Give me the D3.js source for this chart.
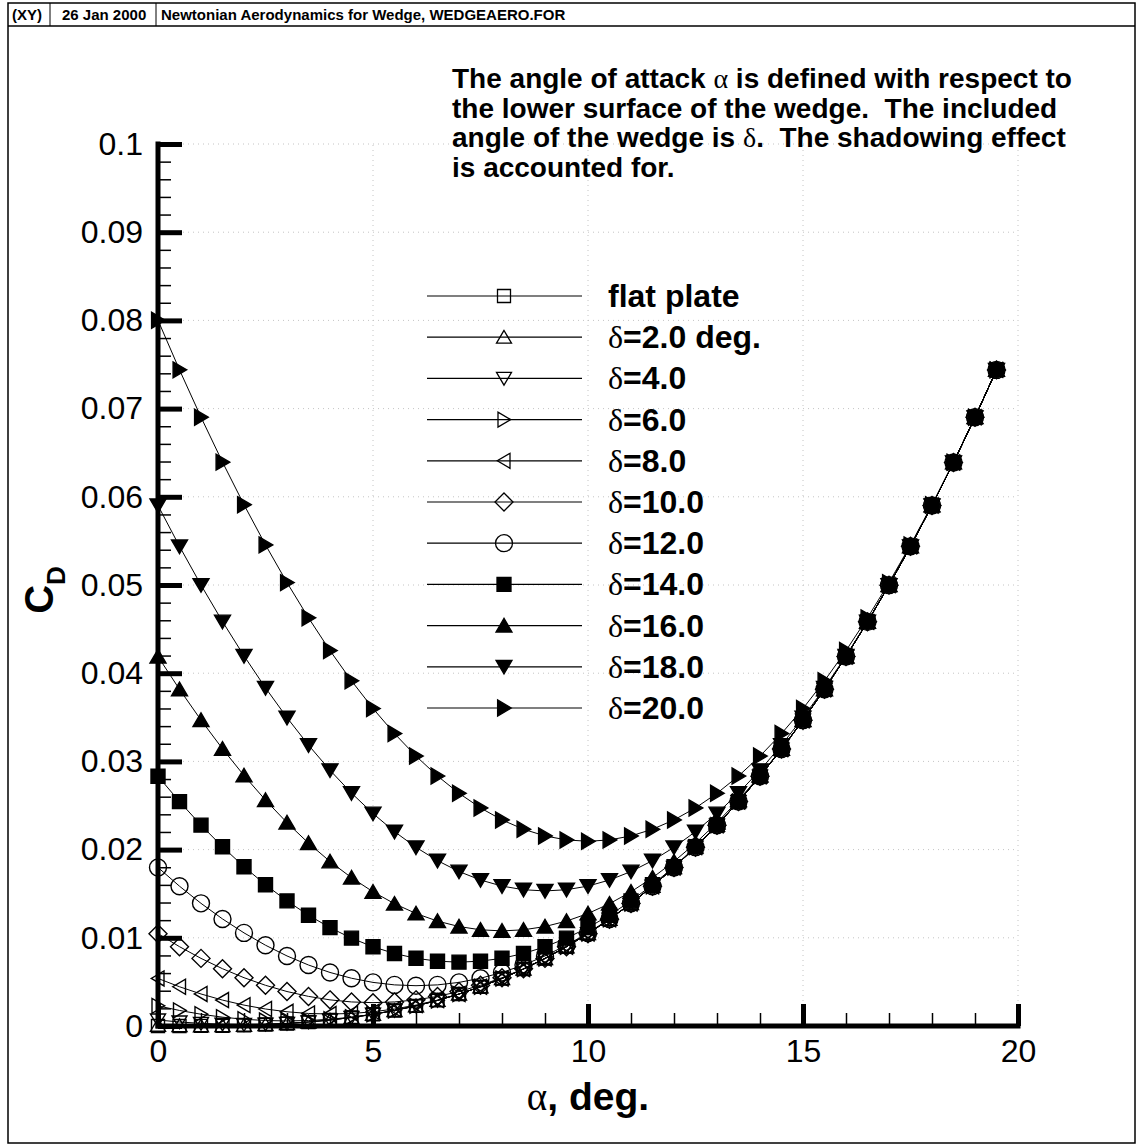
<!DOCTYPE html>
<html>
<head>
<meta charset="utf-8">
<script src="https://cdn.jsdelivr.net/npm/d3@7"></script>
<style>
  body { margin: 0; background: #fff; }
  svg { display: block; }
</style>
</head>
<body>
<div id="chart"></div>
<script>
// angle of attack, deg. (shared by every curve)
const alpha = [0, 0.5, 1, 1.5, 2, 2.5, 3, 3.5, 4, 4.5, 5, 5.5, 6, 6.5, 7, 7.5, 8, 8.5, 9, 9.5,
  10, 10.5, 11, 11.5, 12, 12.5, 13, 13.5, 14, 14.5, 15, 15.5, 16, 16.5, 17, 17.5, 18, 18.5, 19, 19.5];

// CD values, one list per curve
const flatPlate = [0, 0.000001, 0.000011, 0.000036, 0.000085, 0.000166, 0.000287, 0.000455, 0.000679, 0.000966,
  0.001324, 0.001761, 0.002284, 0.002901, 0.003620, 0.004448, 0.005391, 0.006459, 0.007656, 0.008992,
  0.010472, 0.012104, 0.013894, 0.015849, 0.017975, 0.020279, 0.022766, 0.025444, 0.028318, 0.031393,
  0.034675, 0.038170, 0.041884, 0.045820, 0.049985, 0.054382, 0.059017, 0.063894, 0.069017, 0.074390];
const delta2 = [0.000085, 0.000037, 0.000022, 0.000037, 0.000085, 0.000166, 0.000287, 0.000455, 0.000679, 0.000966,
  0.001324, 0.001761, 0.002284, 0.002901, 0.003620, 0.004448, 0.005391, 0.006459, 0.007656, 0.008992,
  0.010472, 0.012104, 0.013894, 0.015849, 0.017975, 0.020279, 0.022766, 0.025444, 0.028318, 0.031393,
  0.034675, 0.038170, 0.041884, 0.045820, 0.049985, 0.054382, 0.059017, 0.063894, 0.069017, 0.074390];
const delta4 = [0.000679, 0.000456, 0.000298, 0.000202, 0.000170, 0.000202, 0.000298, 0.000456, 0.000679, 0.000966,
  0.001324, 0.001761, 0.002284, 0.002901, 0.003620, 0.004448, 0.005391, 0.006459, 0.007656, 0.008992,
  0.010472, 0.012104, 0.013894, 0.015849, 0.017975, 0.020279, 0.022766, 0.025444, 0.028318, 0.031393,
  0.034675, 0.038170, 0.041884, 0.045820, 0.049985, 0.054382, 0.059017, 0.063894, 0.069017, 0.074390];
const delta6 = [0.002284, 0.001762, 0.001335, 0.001002, 0.000764, 0.000621, 0.000574, 0.000621, 0.000764, 0.001002,
  0.001335, 0.001762, 0.002284, 0.002901, 0.003620, 0.004448, 0.005391, 0.006459, 0.007656, 0.008992,
  0.010472, 0.012104, 0.013894, 0.015849, 0.017975, 0.020279, 0.022766, 0.025444, 0.028318, 0.031393,
  0.034675, 0.038170, 0.041884, 0.045820, 0.049985, 0.054382, 0.059017, 0.063894, 0.069017, 0.074390];
const delta8 = [0.005391, 0.004449, 0.003631, 0.002937, 0.002369, 0.001927, 0.001611, 0.001421, 0.001358, 0.001421,
  0.001611, 0.001927, 0.002369, 0.002937, 0.003631, 0.004449, 0.005391, 0.006459, 0.007656, 0.008992,
  0.010472, 0.012104, 0.013894, 0.015849, 0.017975, 0.020279, 0.022766, 0.025444, 0.028318, 0.031393,
  0.034675, 0.038170, 0.041884, 0.045820, 0.049985, 0.054382, 0.059017, 0.063894, 0.069017, 0.074390];
const delta10 = [0.010472, 0.008993, 0.007667, 0.006495, 0.005476, 0.004614, 0.003907, 0.003356, 0.002963, 0.002727,
  0.002648, 0.002727, 0.002963, 0.003356, 0.003907, 0.004614, 0.005476, 0.006495, 0.007667, 0.008993,
  0.010472, 0.012104, 0.013894, 0.015849, 0.017975, 0.020279, 0.022766, 0.025444, 0.028318, 0.031393,
  0.034675, 0.038170, 0.041884, 0.045820, 0.049985, 0.054382, 0.059017, 0.063894, 0.069017, 0.074390];
const delta12 = [0.017975, 0.015850, 0.013905, 0.012140, 0.010557, 0.009158, 0.007943, 0.006914, 0.006070, 0.005414,
  0.004944, 0.004662, 0.004568, 0.004662, 0.004944, 0.005414, 0.006070, 0.006914, 0.007943, 0.009158,
  0.010557, 0.012140, 0.013905, 0.015850, 0.017975, 0.020279, 0.022766, 0.025444, 0.028318, 0.031393,
  0.034675, 0.038170, 0.041884, 0.045820, 0.049985, 0.054382, 0.059017, 0.063894, 0.069017, 0.074390];
const delta14 = [0.028318, 0.025445, 0.022777, 0.020315, 0.018060, 0.016015, 0.014181, 0.012559, 0.011151, 0.009958,
  0.008980, 0.008220, 0.007675, 0.007349, 0.007240, 0.007349, 0.007675, 0.008220, 0.008980, 0.009958,
  0.011151, 0.012559, 0.014181, 0.016015, 0.018060, 0.020315, 0.022777, 0.025445, 0.028318, 0.031393,
  0.034675, 0.038170, 0.041884, 0.045820, 0.049985, 0.054382, 0.059017, 0.063894, 0.069017, 0.074390];
const delta16 = [0.041884, 0.038171, 0.034686, 0.031429, 0.028403, 0.025610, 0.023053, 0.020734, 0.018654, 0.016815,
  0.015218, 0.013865, 0.012756, 0.011893, 0.011276, 0.010907, 0.010782, 0.010907, 0.011276, 0.011893,
  0.012756, 0.013865, 0.015218, 0.016815, 0.018654, 0.020734, 0.023053, 0.025610, 0.028403, 0.031429,
  0.034686, 0.038171, 0.041884, 0.045820, 0.049985, 0.054382, 0.059017, 0.063894, 0.069017, 0.074390];
const delta18 = [0.059017, 0.054383, 0.049996, 0.045856, 0.041969, 0.038336, 0.034962, 0.031848, 0.028997, 0.026410,
  0.024090, 0.022040, 0.020259, 0.018750, 0.017514, 0.016552, 0.015863, 0.015451, 0.015312, 0.015451,
  0.015863, 0.016552, 0.017514, 0.018750, 0.020259, 0.022040, 0.024090, 0.026410, 0.028997, 0.031848,
  0.034962, 0.038336, 0.041969, 0.045856, 0.049996, 0.054383, 0.059017, 0.063894, 0.069017, 0.074390];
const delta20 = [0.080018, 0.074391, 0.069028, 0.063930, 0.059102, 0.054548, 0.050272, 0.046275, 0.042563, 0.039136,
  0.035999, 0.033154, 0.030602, 0.028345, 0.026386, 0.024727, 0.023366, 0.022308, 0.021550, 0.021096,
  0.020944, 0.021096, 0.021550, 0.022308, 0.023366, 0.024727, 0.026386, 0.028345, 0.030602, 0.033154,
  0.035999, 0.039136, 0.042563, 0.046275, 0.050272, 0.054548, 0.059102, 0.063930, 0.069028, 0.074391];

// legend labels: [greek prefix, bold rest]
const legendLabels = [['', 'flat plate'], ['δ', '=2.0 deg.'], ['δ', '=4.0'], ['δ', '=6.0'], ['δ', '=8.0'],
  ['δ', '=10.0'], ['δ', '=12.0'], ['δ', '=14.0'], ['δ', '=16.0'], ['δ', '=18.0'], ['δ', '=20.0']];
const xTicks = [0, 5, 10, 15, 20];
const yTicks = [0, 0.01, 0.02, 0.03, 0.04, 0.05, 0.06, 0.07, 0.08, 0.09, 0.1];
const yTickLabels = ['0', '0.01', '0.02', '0.03', '0.04', '0.05', '0.06', '0.07', '0.08', '0.09', '0.1'];
const noteLines = ['The angle of attack α is defined with respect to',
  'the lower surface of the wedge.  The included',
  'angle of the wedge is δ.  The shadowing effect',
  'is accounted for.'];

// tecplot style symbols, size = half width in px
function tri(rot) {
  return {
    draw(ctx, s) {
      const pts = [[0, -s * 0.9], [-s, s * 0.8], [s, s * 0.8]].map(([px, py]) => {
        const c = Math.cos(rot), n = Math.sin(rot);
        return [px * c - py * n, px * n + py * c];
      });
      ctx.moveTo(pts[0][0], pts[0][1]);
      ctx.lineTo(pts[1][0], pts[1][1]);
      ctx.lineTo(pts[2][0], pts[2][1]);
      ctx.closePath();
    }
  };
}
const sq = { draw(ctx, s) { ctx.rect(-s, -s, 2 * s, 2 * s); } };
const dia = { draw(ctx, s) { ctx.moveTo(0, -s); ctx.lineTo(s, 0); ctx.lineTo(0, s); ctx.lineTo(-s, 0); ctx.closePath(); } };
const circ = { draw(ctx, s) { ctx.moveTo(s, 0); ctx.arc(0, 0, s, 0, 2 * Math.PI); } };

const series = [
  { values: flatPlate, sym: sq, size: 6.5, fill: 'none' },
  { values: delta2, sym: tri(0), size: 7.5, fill: 'none' },
  { values: delta4, sym: tri(Math.PI), size: 7.5, fill: 'none' },
  { values: delta6, sym: tri(Math.PI / 2), size: 7.5, fill: 'none' },
  { values: delta8, sym: tri(-Math.PI / 2), size: 7.5, fill: 'none' },
  { values: delta10, sym: dia, size: 9, fill: 'none' },
  { values: delta12, sym: circ, size: 8.5, fill: 'none' },
  { values: delta14, sym: sq, size: 7, fill: '#000' },
  { values: delta16, sym: tri(0), size: 8, fill: '#000' },
  { values: delta18, sym: tri(Math.PI), size: 8, fill: '#000' },
  { values: delta20, sym: tri(Math.PI / 2), size: 8, fill: '#000' }
];
series.forEach((s, i) => { s.label = legendLabels[i]; });

const W = 1142, H = 1148;
const sans = '"Liberation Sans", Arial, sans-serif';
const serif = '"Liberation Serif", "Times New Roman", serif';

const svg = d3.select('#chart').append('svg')
  .attr('width', W).attr('height', H)
  .style('font-family', sans);

// frame and header strip
svg.append('rect').attr('x', 8).attr('y', 3).attr('width', 1127).attr('height', 1140)
  .attr('fill', 'none').attr('stroke', '#000').attr('stroke-width', 1.5);
svg.append('line').attr('x1', 8).attr('x2', 1135).attr('y1', 26).attr('y2', 26)
  .attr('stroke', '#000').attr('stroke-width', 1.5);
[50, 156].forEach(px => {
  svg.append('line').attr('x1', px).attr('x2', px).attr('y1', 3).attr('y2', 26)
    .attr('stroke', '#000').attr('stroke-width', 1);
});
const header = svg.append('g').style('font-size', '15px').style('font-weight', 'bold');
header.append('text').attr('x', 12).attr('y', 20).text('(XY)');
header.append('text').attr('x', 62).attr('y', 20).text('26 Jan 2000');
header.append('text').attr('x', 161).attr('y', 20).text('Newtonian Aerodynamics for Wedge, WEDGEAERO.FOR');

const x = d3.scaleLinear().domain([0, 20]).range([158, 1018]);
const y = d3.scaleLinear().domain([0, 0.1]).range([1026, 144]);

// dotted grid
const grid = svg.append('g').attr('stroke', '#c4c4c4').attr('stroke-width', 1).attr('stroke-dasharray', '1,4');
grid.selectAll('.gx').data(xTicks.slice(1)).join('line')
  .attr('x1', d => x(d)).attr('x2', d => x(d)).attr('y1', y(0)).attr('y2', y(0.1));
grid.selectAll('.gy').data(yTicks.slice(1)).join('line')
  .attr('x1', x(0)).attr('x2', x(20)).attr('y1', d => y(d)).attr('y2', d => y(d));

// note text (tight tecplot line spacing, double spaces kept)
const note = svg.append('text').style('font-size', '28px').style('font-weight', 'bold')
  .style('white-space', 'pre');
noteLines.forEach((ln, i) => {
  const t = note.append('tspan').attr('x', 452).attr('y', 88 + i * 29.5);
  ln.split(/([αδ])/).forEach(part => {
    const sp = t.append('tspan').text(part);
    if (part === 'α' || part === 'δ') sp.style('font-family', serif).style('font-weight', 'normal');
  });
});

// axes
const yMinor = d3.range(0, 0.1001, 0.002).filter(v => Math.abs(v * 100 - Math.round(v * 100)) > 1e-6);
const xMinor = d3.range(0, 20.01, 1).filter(v => v % 5 !== 0);

svg.append('g').attr('transform', `translate(${x(0)},0)`)
  .call(d3.axisRight(y).tickValues(yMinor).tickSize(13).tickSizeOuter(0).tickFormat(''))
  .call(g => g.select('.domain').remove())
  .call(g => g.selectAll('line').attr('stroke-width', 1.5));
svg.append('g').attr('transform', `translate(0,${y(0)})`)
  .call(d3.axisTop(x).tickValues(xMinor).tickSize(13).tickSizeOuter(0).tickFormat(''))
  .call(g => g.select('.domain').remove())
  .call(g => g.selectAll('line').attr('stroke-width', 1.5));

svg.append('g').attr('transform', `translate(${x(0)},0)`)
  .call(d3.axisRight(y).tickValues(yTicks).tickSize(24).tickSizeOuter(0).tickFormat(''))
  .call(g => g.select('.domain').remove())
  .call(g => g.selectAll('line').attr('stroke-width', 5));
svg.append('g').attr('transform', `translate(0,${y(0)})`)
  .call(d3.axisTop(x).tickValues(xTicks).tickSize(22).tickSizeOuter(0).tickFormat(''))
  .call(g => g.select('.domain').remove())
  .call(g => g.selectAll('line').attr('stroke-width', 5));

// axis lines
svg.append('line').attr('x1', x(0)).attr('x2', x(0)).attr('y1', y(0.1) - 2.5).attr('y2', y(0) + 2.5)
  .attr('stroke', '#000').attr('stroke-width', 5);
svg.append('line').attr('x1', x(0) - 2.5).attr('x2', x(20) + 2.5).attr('y1', y(0)).attr('y2', y(0))
  .attr('stroke', '#000').attr('stroke-width', 5);

// tick labels
svg.append('g').attr('transform', `translate(${x(0)},0)`)
  .call(d3.axisLeft(y).tickValues(yTicks).tickSize(0).tickPadding(15)
    .tickFormat((d, i) => yTickLabels[i]))
  .call(g => g.select('.domain').remove())
  .call(g => g.selectAll('text').style('font-family', sans).style('font-size', '32px').attr('fill', '#000'));
svg.append('g').attr('transform', `translate(0,${y(0)})`)
  .call(d3.axisBottom(x).tickValues(xTicks).tickSize(0).tickPadding(13))
  .call(g => g.select('.domain').remove())
  .call(g => g.selectAll('text').style('font-family', sans).style('font-size', '32px').attr('fill', '#000'));

// axis titles
const xt = svg.append('text').attr('x', x(10)).attr('y', 1110).attr('text-anchor', 'middle')
  .style('font-size', '39px').style('font-weight', 'bold');
xt.append('tspan').style('font-family', serif).style('font-weight', 'normal').text('α');
xt.append('tspan').text(', deg.');

const yt = svg.append('text').attr('transform', 'translate(53,590) rotate(-90)')
  .attr('text-anchor', 'middle').style('font-weight', 'bold');
yt.append('tspan').style('font-size', '40px').text('C');
yt.append('tspan').style('font-size', '26px').attr('dy', 12).text('D');

// curves and symbols
const line = d3.line().x((d, i) => x(alpha[i])).y(d => y(d));
const plot = svg.append('g');
series.forEach(s => {
  const g = plot.append('g');
  g.append('path').attr('d', line(s.values)).attr('fill', 'none').attr('stroke', '#000').attr('stroke-width', 1);
  g.selectAll('path.m').data(s.values).join('path').attr('class', 'm')
    .attr('transform', (d, i) => `translate(${x(alpha[i])},${y(d)})`)
    .attr('d', d3.symbol(s.sym, s.size)())
    .attr('fill', s.fill).attr('stroke', '#000').attr('stroke-width', 1.4);
});

// legend
const legend = svg.append('g');
series.forEach((s, i) => {
  const ry = 296 + i * 41.2;
  const r = legend.append('g').attr('transform', `translate(0,${ry})`);
  r.append('line').attr('x1', 427).attr('x2', 582).attr('y1', 0).attr('y2', 0)
    .attr('stroke', '#000').attr('stroke-width', 1.2);
  r.append('path').attr('transform', 'translate(504,0)').attr('d', d3.symbol(s.sym, s.size)())
    .attr('fill', s.fill).attr('stroke', '#000').attr('stroke-width', 1.3);
  const t = r.append('text').attr('x', 608).attr('y', 11).style('font-size', '32px').style('font-weight', 'bold');
  if (s.label[0]) t.append('tspan').style('font-family', serif).style('font-weight', 'normal').text(s.label[0]);
  t.append('tspan').text(s.label[1]);
});
</script>
</body>
</html>
